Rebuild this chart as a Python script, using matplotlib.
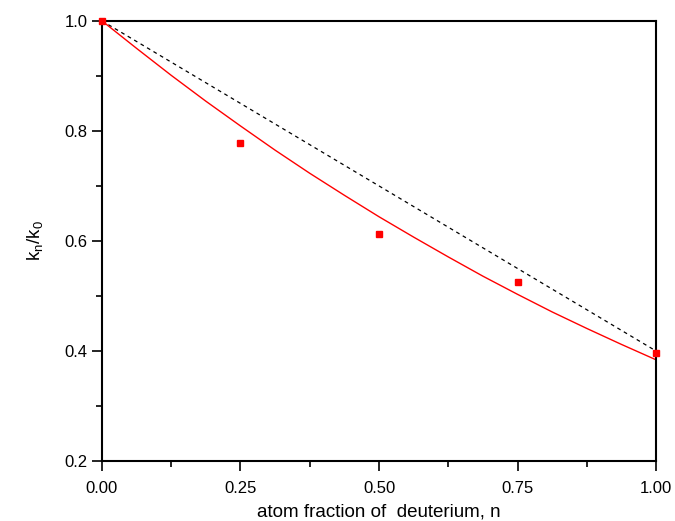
import matplotlib
matplotlib.use("Agg")
import matplotlib.pyplot as plt
from matplotlib.ticker import MultipleLocator, FormatStrFormatter

plt.rcParams['font.family'] = ['Liberation Sans', 'DejaVu Sans']
plt.rcParams['mathtext.default'] = 'regular'

# measured points
n_pts = [0.0, 0.25, 0.5, 0.75, 1.0]
k_pts = [1.0, 0.778, 0.612, 0.525, 0.396]

# red fitted curve
n_fit = [0.0, 0.0625, 0.125, 0.1875, 0.25, 0.3125, 0.375, 0.4375, 0.5,
         0.5625, 0.625, 0.6875, 0.75, 0.8125, 0.875, 0.9375, 1.0]
k_fit = [1.0, 0.950, 0.901, 0.854, 0.809, 0.765, 0.723, 0.683, 0.644,
         0.607, 0.571, 0.536, 0.503, 0.471, 0.441, 0.412, 0.384]

# black dashed line
n_lin = [0.0, 0.25, 0.5, 0.75, 1.0]
k_lin = [1.0, 0.850, 0.700, 0.550, 0.400]

fig = plt.figure(figsize=(6.75, 5.21), dpi=100)
ax = fig.add_axes([0.151, 0.115, 0.821, 0.845])

ax.plot(n_lin, k_lin, color='black', lw=0.9, dashes=(3, 3))
ax.plot(n_fit, k_fit, color='red', lw=1.0)
ax.plot(n_pts, k_pts, ls='none', marker='s', ms=4.5, color='red', mec='red',
        clip_on=False, zorder=5)

ax.set_xlim(0, 1.0)
ax.set_ylim(0.2, 1.0)
ax.xaxis.set_major_locator(MultipleLocator(0.25))
ax.xaxis.set_minor_locator(MultipleLocator(0.125))
ax.yaxis.set_major_locator(MultipleLocator(0.2))
ax.yaxis.set_minor_locator(MultipleLocator(0.1))
ax.xaxis.set_major_formatter(FormatStrFormatter('%.2f'))
ax.yaxis.set_major_formatter(FormatStrFormatter('%.1f'))

for s in ax.spines.values():
    s.set_linewidth(1.5)
ax.tick_params(which='major', direction='out', length=7, width=1.2, labelsize=12, top=False, right=False)
ax.tick_params(axis='x', which='major', pad=7)
ax.tick_params(which='minor', direction='out', length=4, width=1.2, top=False, right=False)

ax.set_xlabel('atom fraction of  deuterium, n', fontsize=13.5, labelpad=6)
ax.set_ylabel(r'k$_{n}$/k$_{0}$', fontsize=13.5, labelpad=14)

fig.savefig('out.png', dpi=100)
